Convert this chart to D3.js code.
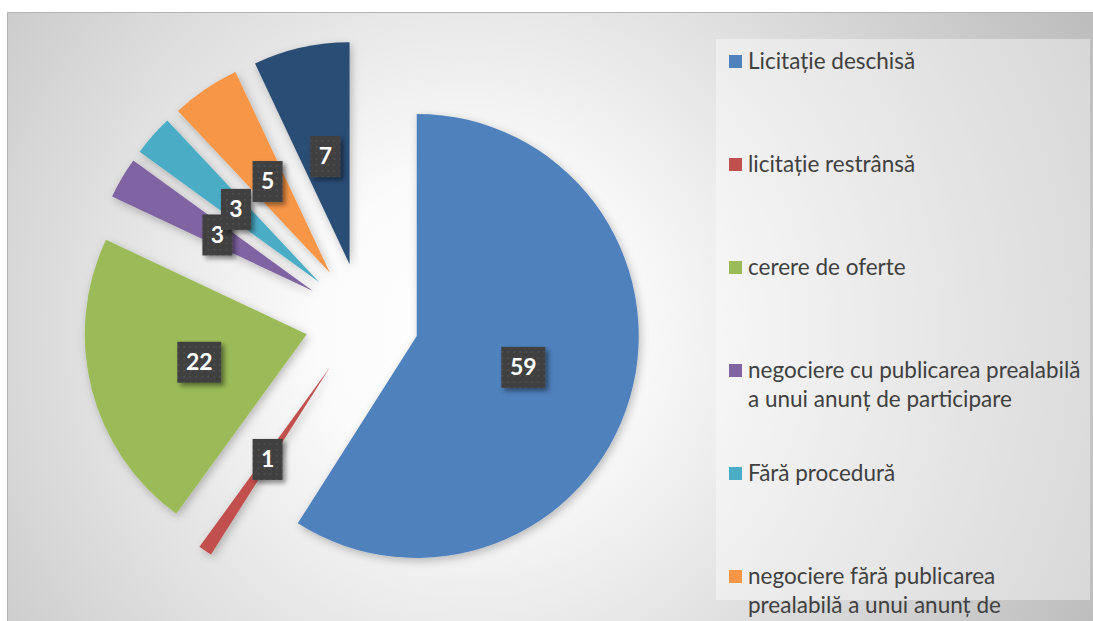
<!DOCTYPE html>
<html>
  <head>
    <meta charset="UTF-8" />
    <title>Proceduri</title>
    <style>
      body { margin: 0; background: #fff; overflow: hidden; }
      svg { display: block; }
    </style>
  </head>
  <body>
    <script src="https://cdn.jsdelivr.net/npm/d3@7"></script>
    <script>
      // chart data
      var categories = [
        "Licitație deschisă",
        "licitație restrânsă",
        "cerere de oferte",
        "negociere cu publicarea prealabilă a unui anunț de participare",
        "Fără procedură",
        "negociere fără publicarea prealabilă a unui anunț de participare",
        "Alte proceduri"
      ];
      var values = [59, 1, 22, 3, 3, 5, 7];
      var colours = ["#4F81BD", "#C0504D", "#9BBB59", "#8064A2", "#4BACC6", "#F79646", "#2C4D75"];
      // legend lines, wrapped as in the picture
      var legendLines = [
        ["Licitație deschisă"],
        ["licitație restrânsă"],
        ["cerere de oferte"],
        ["negociere cu publicarea prealabilă", "a unui anunț de participare"],
        ["Fără procedură"],
        ["negociere fără publicarea", "prealabilă a unui anunț de", "participare"],
        ["Alte proceduri"]
      ];

      var width = 1093, height = 621;
      var cx = 362, cy = 320, radius = 222, explode = 57;

      var svg = d3.select("body").append("svg")
        .attr("width", width)
        .attr("height", height);

      var defs = svg.append("defs");

      var bg = defs.append("radialGradient")
        .attr("id", "bg")
        .attr("gradientUnits", "userSpaceOnUse")
        .attr("cx", 470).attr("cy", 330).attr("r", 700);
      bg.append("stop").attr("offset", 0).attr("stop-color", "#ffffff");
      bg.append("stop").attr("offset", 0.22).attr("stop-color", "#fbfbfb");
      bg.append("stop").attr("offset", 1).attr("stop-color", "#bcbcbc");

      var shadow = defs.append("filter").attr("id", "shadow")
        .attr("x", "-20%").attr("y", "-20%").attr("width", "140%").attr("height", "140%");
      shadow.append("feDropShadow")
        .attr("dx", 2).attr("dy", 3).attr("stdDeviation", 4)
        .attr("flood-color", "#000").attr("flood-opacity", 0.25);

      var boxShadow = defs.append("filter").attr("id", "boxShadow")
        .attr("x", "-30%").attr("y", "-30%").attr("width", "170%").attr("height", "170%");
      boxShadow.append("feDropShadow")
        .attr("dx", 3).attr("dy", 3).attr("stdDeviation", 2.5)
        .attr("flood-color", "#000").attr("flood-opacity", 0.45);

      var dots = defs.append("pattern").attr("id", "dots")
        .attr("patternUnits", "userSpaceOnUse")
        .attr("width", 6).attr("height", 6);
      dots.append("rect").attr("width", 6).attr("height", 6).attr("fill", "#3f3f3f");
      dots.append("circle").attr("cx", 3).attr("cy", 3).attr("r", 0.9).attr("fill", "#555");

      // chart area
      svg.append("rect")
        .attr("x", 7.5).attr("y", 12.5)
        .attr("width", width).attr("height", height)
        .attr("fill", "url(#bg)")
        .attr("stroke", "#b4b4b4");

      // legend
      var legend = svg.append("g");
      legend.append("rect")
        .attr("x", 716).attr("y", 39)
        .attr("width", 374).attr("height", 561)
        .attr("fill", "#ffffff").attr("fill-opacity", 0.4);

      var itemY = d3.scaleLinear().domain([0, 1]).range([62, 165]);
      var items = legend.selectAll("g.item")
        .data(legendLines)
        .enter().append("g")
        .attr("class", "item")
        .attr("transform", function(d, i) { return "translate(0," + itemY(i) + ")"; });

      items.append("rect")
        .attr("x", 729).attr("y", -7)
        .attr("width", 13).attr("height", 13)
        .attr("fill", function(d, i) { return colours[i]; });

      items.each(function(lines) {
        var t = d3.select(this).append("text")
          .attr("font-family", "Lato, 'Open Sans', sans-serif")
          .attr("font-size", "22.5px")
          .attr("fill", "#404040");
        lines.forEach(function(l, j) {
          t.append("tspan").attr("x", 748).attr("y", 7 + j * 29).text(l);
        });
      });

      // pie
      var pie = d3.pie().sort(null).value(function(d) { return d; });
      var arcs = pie(values);
      var arc = d3.arc().innerRadius(0).outerRadius(radius);

      function offset(d) {
        var a = (d.startAngle + d.endAngle) / 2;
        return [Math.sin(a) * explode, -Math.cos(a) * explode];
      }

      var pieG = svg.append("g")
        .attr("transform", "translate(" + cx + "," + cy + ")");

      pieG.selectAll("path")
        .data(arcs)
        .enter().append("path")
        .attr("d", arc)
        .attr("transform", function(d) { var o = offset(d); return "translate(" + o[0] + "," + o[1] + ")"; })
        .attr("fill", function(d, i) { return colours[i]; })
        .attr("filter", "url(#shadow)");

      var labels = pieG.selectAll("g.label")
        .data(arcs)
        .enter().append("g")
        .attr("class", "label")
        .attr("transform", function(d) {
          var o = offset(d), c = arc.centroid(d);
          return "translate(" + (c[0] + o[0]) + "," + (c[1] + o[1]) + ")";
        });

      labels.append("rect")
        .attr("x", function(d) { return d.value >= 10 ? -22 : -15; })
        .attr("y", -20)
        .attr("width", function(d) { return d.value >= 10 ? 44 : 30; })
        .attr("height", 41)
        .attr("fill", "url(#dots)")
        .attr("filter", "url(#boxShadow)");

      labels.append("text")
        .attr("text-anchor", "middle")
        .attr("dy", "0.36em")
        .attr("font-family", "Lato, 'Open Sans', sans-serif")
        .attr("font-weight", "bold")
        .attr("font-size", "23px")
        .attr("fill", "#ffffff")
        .text(function(d) { return d.value; });
    </script>
  </body>
</html>
